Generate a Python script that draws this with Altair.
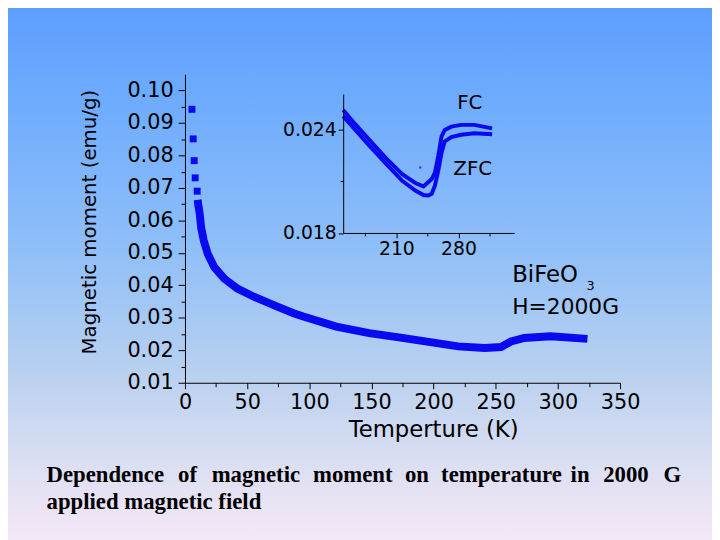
import altair as alt
import pandas as pd

# ---------------- data ----------------
# main curve: sparse low-temperature squares
sparse_T = [5.6, 6.6, 7.4, 8.2, 9.8, 10.6]
sparse_M = [0.0942, 0.0851, 0.0784, 0.0731, 0.0690, 0.0651]

# main curve: dense part (drawn as a thick band)
main_T = [10.6, 11.9, 13.0, 15.1, 18.3, 23.6, 31.6, 42.2, 55.4, 71.4, 87.3, 95.2,
          121.7, 148.2, 174.8, 201.3, 219.8, 241.0, 254.3, 262.3, 272.9, 294.0, 320.6]
main_M = [0.0651, 0.0619, 0.0578, 0.0538, 0.0497, 0.0456, 0.0421, 0.0390, 0.0365, 0.0339, 0.0314, 0.0304,
          0.0273, 0.0253, 0.0238, 0.0223, 0.0212, 0.0207, 0.0210, 0.0227, 0.0238, 0.0243, 0.0236]

# inset: FC and ZFC curves
fc_T = [150, 161, 179.5, 198, 216.6, 231.4, 240.6, 249.9, 253.5, 257.2, 261, 264.6, 272, 283, 298, 318]
fc_M = [0.02513, 0.02446, 0.02341, 0.02236, 0.02141, 0.02090, 0.02070, 0.02113, 0.02150, 0.02246,
        0.02360, 0.02398, 0.02417, 0.02427, 0.02427, 0.02407]
zfc_T = [150, 161, 179.5, 198, 216.6, 231.4, 240.6, 246, 249.9, 253.5, 257.2, 261, 264.6, 272, 283, 298, 318]
zfc_M = [0.02478, 0.02413, 0.02307, 0.02204, 0.02103, 0.02046, 0.02020, 0.02017, 0.02027, 0.02074,
         0.02160, 0.02265, 0.02331, 0.02356, 0.02370, 0.02379, 0.02373]
stray_T = [236.9]
stray_M = [0.0218]

# tick values
x_major = [0, 50, 100, 150, 200, 250, 300, 350]
x_minor = [25, 75, 125, 175, 225, 275, 325]
y_major = [0.01, 0.02, 0.03, 0.04, 0.05, 0.06, 0.07, 0.08, 0.09, 0.10]
y_minor = [0.015, 0.025, 0.035, 0.045, 0.055, 0.065, 0.075, 0.085, 0.095]
ix_major = [210, 280]
ix_minor = [175, 245, 315]
iy_major = [0.018, 0.024]
iy_minor = [0.021]

caption_line1 = ["Dependence", "of", "magnetic", "moment", "on", "temperature", "in", "2000", "G"]
caption_line2 = "applied magnetic field"

# ---------------- layout / style ----------------
W, H = 440, 312
PAD = {"left": 179, "top": 64, "right": 93, "bottom": 156}
BLUE = "#0a0af0"
FONT = "DejaVu Sans"
SERIF = "Liberation Serif"
caption_x = [47, 180, 214, 316.5, 409.5, 446, 577, 610, 671]   # page x of each word

main_df = pd.DataFrame({"T": main_T, "M": main_M})
sparse_df = pd.DataFrame({"T": sparse_T, "M": sparse_M})
fc_df = pd.DataFrame({"T": fc_T, "M": fc_M})
zfc_df = pd.DataFrame({"T": zfc_T, "M": zfc_M})
stray_df = pd.DataFrame({"T": stray_T, "M": stray_M})
dummy = pd.DataFrame({"T": [0.0], "M": [0.0]})
one = pd.DataFrame({"k": [0]})

xs = alt.Scale(domain=[0, 350], nice=False, zero=False)
ys = alt.Scale(domain=[0.01, 0.105], nice=False, zero=False)

main_line = alt.Chart(main_df).mark_line(color=BLUE, strokeWidth=8, strokeCap="square").encode(
    x=alt.X("T:Q", scale=xs, axis=alt.Axis(
        orient="bottom", values=x_major, format="d", tickSize=6, labelPadding=3,
        labelFlush=False, labelOverlap=False, zindex=2,
        title="Temperture (K)", titleX=251, titleY=54, titleBaseline="alphabetic",
        titleAlign="center", titleFontSize=23)),
    y=alt.Y("M:Q", scale=ys, axis=alt.Axis(
        orient="left", values=y_major, format=".2f", tickSize=7, labelPadding=5,
        labelFlush=False, labelOverlap=False, zindex=2,
        title="Magnetic moment (emu/g)", titleX=-91, titleY=149, titleAngle=270,
        titleBaseline="alphabetic", titleAlign="center", titleFontSize=20)),
)
squares = alt.Chart(sparse_df).mark_square(size=49, color=BLUE, opacity=1).encode(
    x=alt.X("T:Q", scale=xs, axis=None),
    y=alt.Y("M:Q", scale=ys, axis=None),
)
minor = alt.Chart(dummy).mark_point(opacity=0).encode(
    x=alt.X("T:Q", scale=xs, axis=alt.Axis(orient="bottom", values=x_minor, labels=False,
                                          domain=False, tickSize=4, title="", zindex=2)),
    y=alt.Y("M:Q", scale=ys, axis=alt.Axis(orient="left", values=y_minor, labels=False,
                                          domain=False, tickSize=4, title="", zindex=2)),
)
main = alt.layer(main_line, squares, minor).resolve_axis(x="independent", y="independent")

# inset
xi = alt.Scale(domain=[150, 343], range=[160, 333], nice=False, zero=False)
yi = alt.Scale(domain=[0.018, 0.02606], range=[160.5, 20], nice=False, zero=False)

fc_line = alt.Chart(fc_df).mark_line(color=BLUE, strokeWidth=4).encode(
    x=alt.X("T:Q", scale=xi, axis=alt.Axis(
        orient="bottom", offset=-151.5, values=ix_major, format="d", tickSize=5,
        labelPadding=2, labelFontSize=19, labelFlush=False, labelOverlap=False, title="", zindex=2)),
    y=alt.Y("M:Q", scale=yi, axis=alt.Axis(
        orient="left", offset=-160, values=iy_major, format=".3f", tickSize=5,
        labelPadding=2, labelFontSize=19, labelFlush=False, labelOverlap=False, title="", zindex=2)),
)
zfc_line = alt.Chart(zfc_df).mark_line(color=BLUE, strokeWidth=4).encode(
    x=alt.X("T:Q", scale=xi, axis=None),
    y=alt.Y("M:Q", scale=yi, axis=None),
)
stray = alt.Chart(stray_df).mark_square(size=5, color=BLUE).encode(
    x=alt.X("T:Q", scale=xi, axis=None),
    y=alt.Y("M:Q", scale=yi, axis=None),
)
inset_minor = alt.Chart(dummy).mark_point(opacity=0).encode(
    x=alt.X("T:Q", scale=xi, axis=alt.Axis(orient="bottom", offset=-151.5, values=ix_minor,
                                          labels=False, domain=False, tickSize=3, title="", zindex=2)),
    y=alt.Y("M:Q", scale=yi, axis=alt.Axis(orient="left", offset=-160, values=iy_minor,
                                          labels=False, domain=False, tickSize=3, title="", zindex=2)),
)
inset = alt.layer(fc_line, zfc_line, stray, inset_minor).resolve_axis(x="independent", y="independent")

# background gradient
bg = alt.Chart(one).mark_rect(
    fill=alt.Gradient(
        gradient="linear", x1=0, x2=0, y1=0, y2=1,
        stops=[alt.GradientStop(color="#5c9cff", offset=0.0),
               alt.GradientStop(color="#68a8ff", offset=0.14),
               alt.GradientStop(color="#90bff8", offset=0.46),
               alt.GradientStop(color="#bcd2ef", offset=0.70),
               alt.GradientStop(color="#dcdff2", offset=0.85),
               alt.GradientStop(color="#f7e8f7", offset=1.0)]),
    strokeWidth=0,
).encode(x=alt.value(-190), x2=alt.value(545), y=alt.value(-80), y2=alt.value(480))


def label(text, px, py, size, align="left", baseline="alphabetic", font=FONT, weight="normal"):
    return alt.Chart(one).mark_text(text=text, font=font, fontSize=size, color="black",
                                    fontWeight=weight, align=align, baseline=baseline).encode(
        x=alt.value(px - 187), y=alt.value(py - 72))


texts = [
    label("FC", 475, 101.5, 20, align="center", baseline="middle"),
    label("ZFC", 478, 167.5, 20, align="center", baseline="middle"),
    label("BiFeO", 518, 282, 23),
    label("3", 593, 290, 13),
    label("H=2000G", 518, 314, 22),
]
for w, px in zip(caption_line1, caption_x):
    texts.append(label(w, px, 484, 23, font=SERIF, weight="bold"))
texts.append(label(caption_line2, 47, 512, 23, font=SERIF, weight="bold"))

chart = alt.layer(bg, main, inset, *texts).resolve_scale(
    x="independent", y="independent"
).properties(
    width=W, height=H, padding=PAD, autosize=alt.AutoSizeParams(type="none"),
    background="#5c9cff",
).configure_axis(
    grid=False, domainColor="black", tickColor="black", domainWidth=1, tickWidth=1,
    labelFont=FONT, labelFontSize=21, labelColor="black",
    titleFont=FONT, titleFontWeight="normal", titleColor="black",
).configure_view(strokeWidth=0)

chart.save("out.html", embed_options={"renderer": "svg", "actions": False})
